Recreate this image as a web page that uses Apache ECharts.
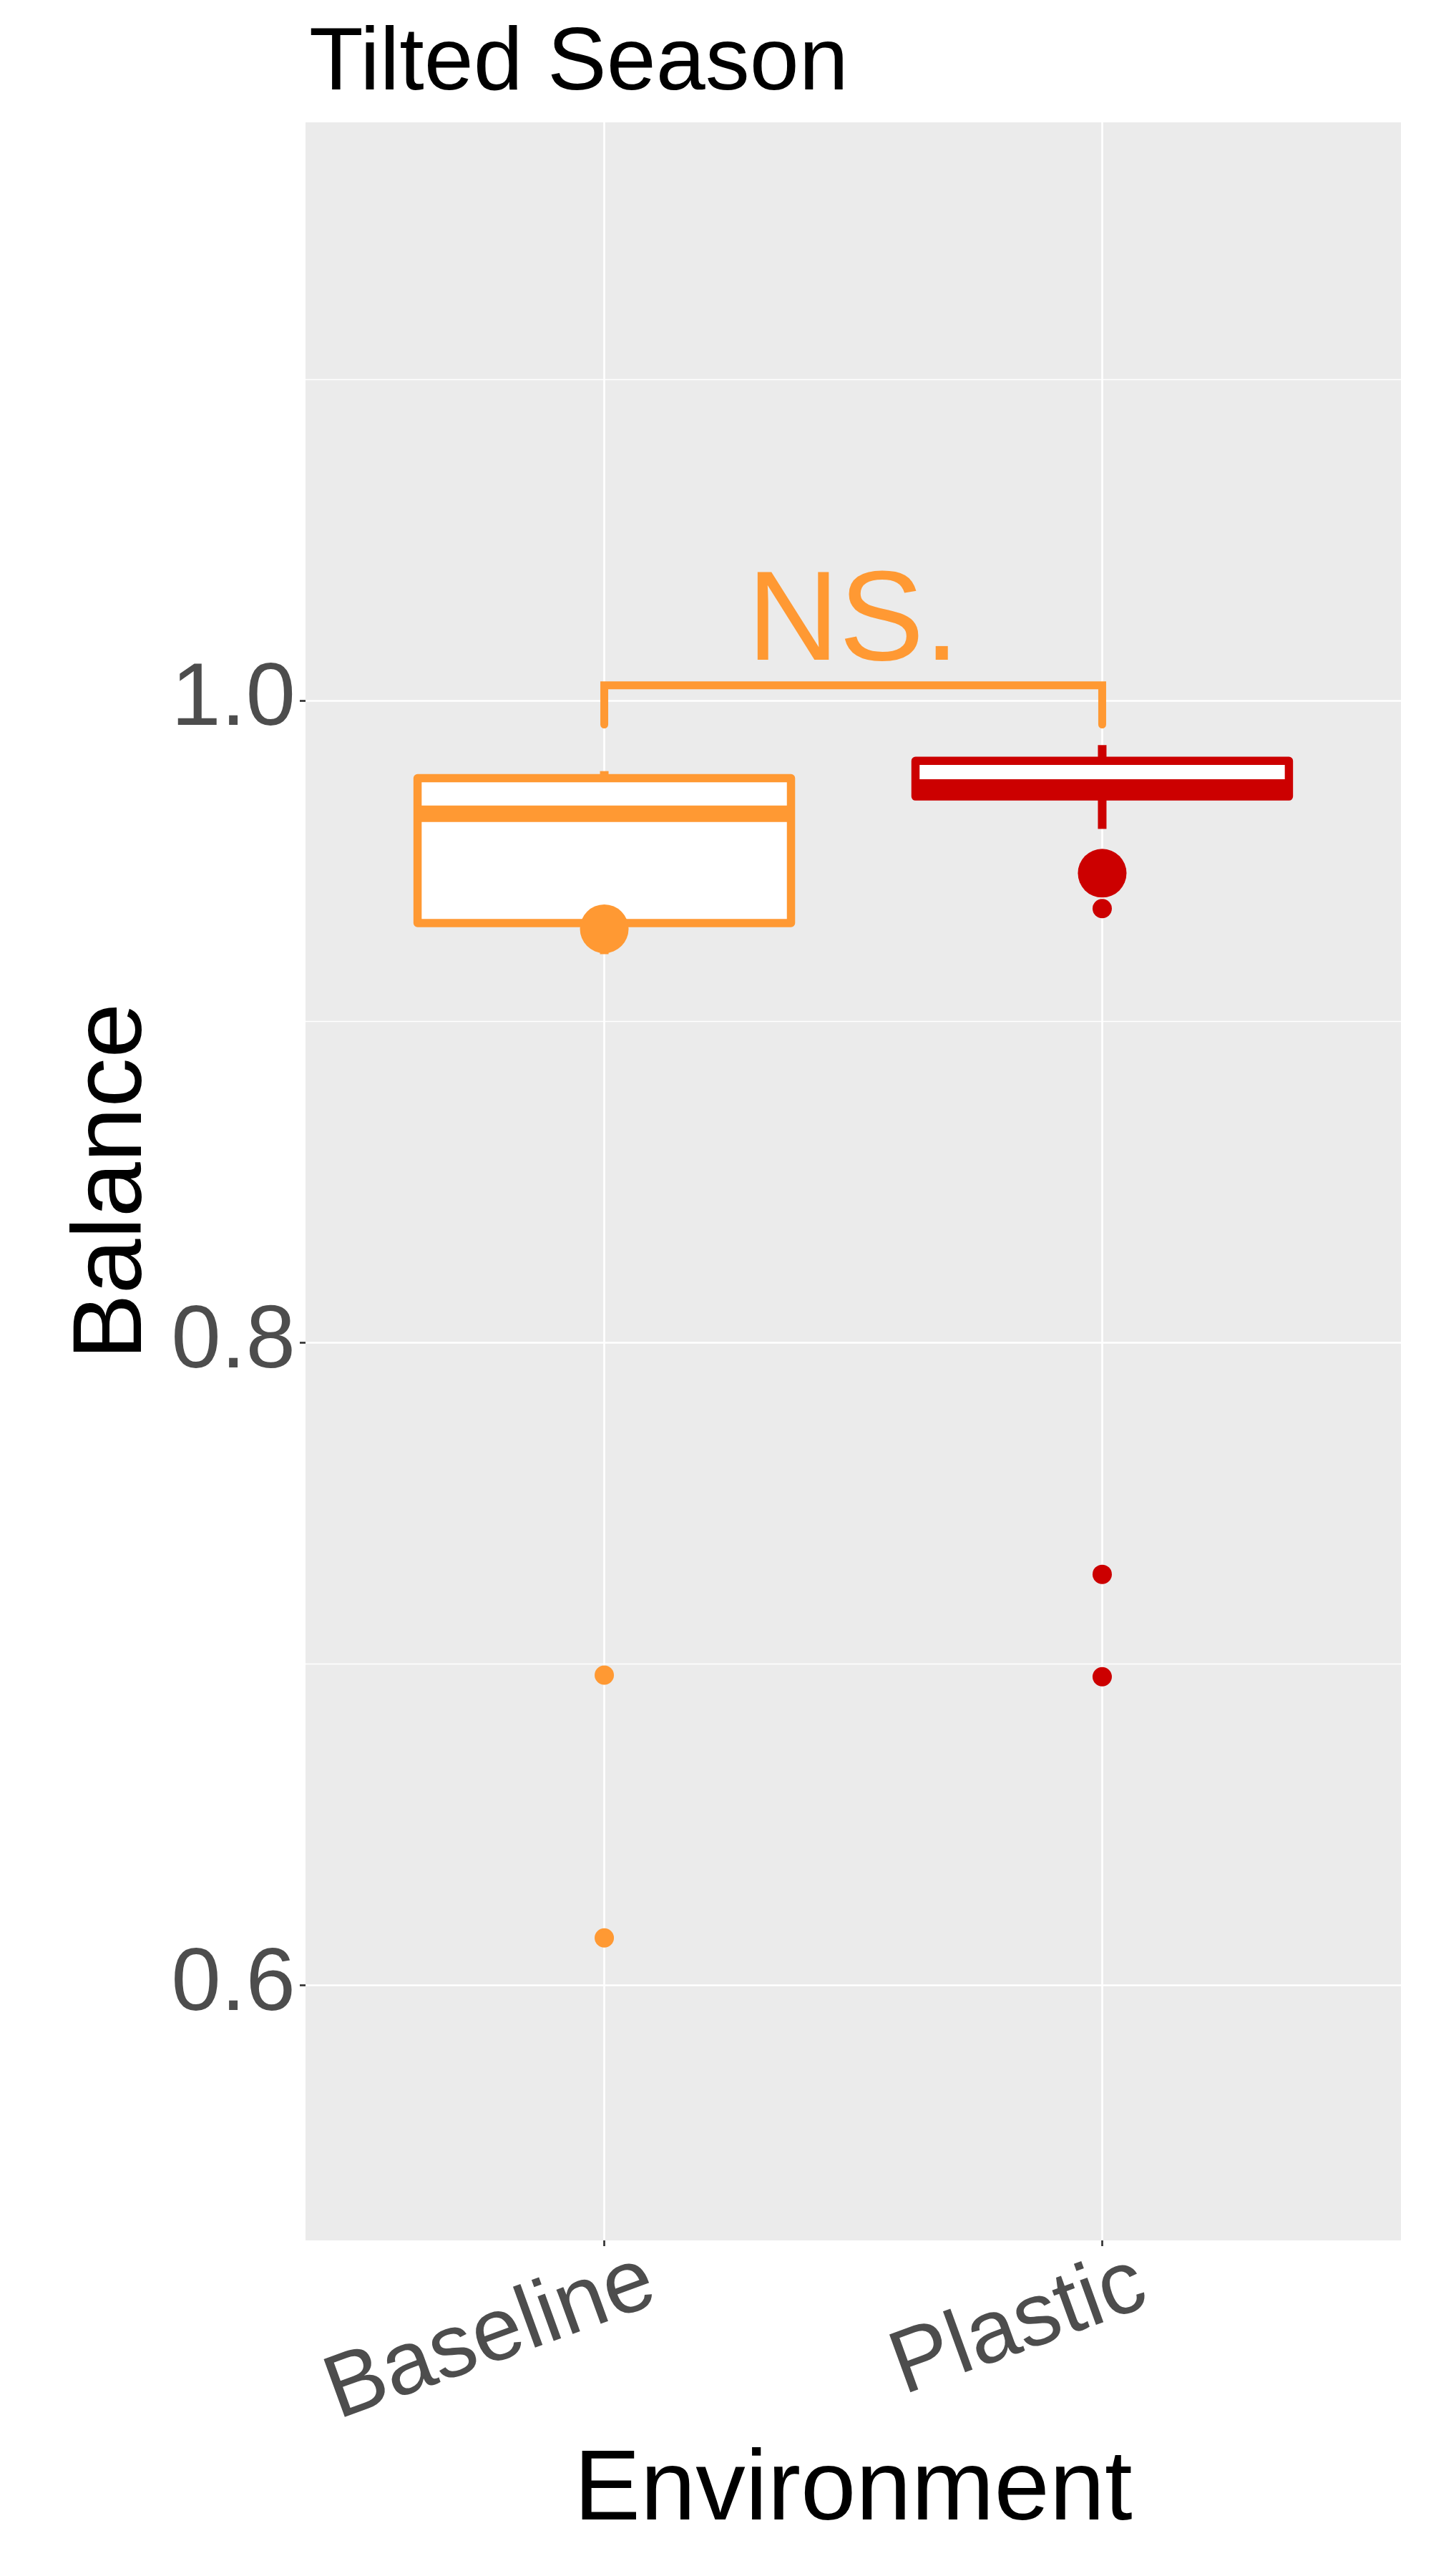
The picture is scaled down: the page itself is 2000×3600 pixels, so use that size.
<!DOCTYPE html>
<html><head><meta charset="utf-8">
<script src="https://cdn.jsdelivr.net/npm/echarts@6/dist/echarts.min.js"></script>
<style>html,body{margin:0;padding:0;background:#fff}#c{width:2000px;height:3600px}</style>
</head><body><div id="c"></div>
<script>
// ---- data ----
const categories = ['Baseline', 'Plastic'];
const lowerWhisker = [0.921, 0.960];
const q1 = [0.9307, 0.9701];
const median = [0.9647, 0.9729];
const q3 = [0.9758, 0.9812];
const upperWhisker = [0.978, 0.9861];
const means = [0.9289, 0.9462];
const outliersBaseline = [0.6965, 0.6147];
const outliersPlastic = [0.9352, 0.7279, 0.6960];
const yTickValues = [0.6, 0.8, 1.0];
const yMinorValues = [0.7, 0.9, 1.1];
const bracketTop = 1.0047;
const bracketLeg = 0.9925;
const annotationText = 'NS.';
const colors = ['#FF9933', '#CC0000'];

const FONT = 'Liberation Sans';
const xPos = categories.map((c, i) => i + 1);

const boxData = categories.map((c, i) => [xPos[i], lowerWhisker[i], q1[i], median[i], q3[i], upperWhisker[i], i]);
const meanData = categories.map((c, i) => ({ value: [xPos[i], means[i]], itemStyle: { color: colors[i], opacity: 1 } }));
const outlierData = [].concat(
  outliersBaseline.map(v => ({ value: [xPos[0], v], itemStyle: { color: colors[0], opacity: 1 } })),
  outliersPlastic.map(v => ({ value: [xPos[1], v], itemStyle: { color: colors[1], opacity: 1 } }))
);
const bracketData = [[xPos[0], bracketLeg], [xPos[0], bracketTop], [xPos[1], bracketTop], [xPos[1], bracketLeg]];

const gridLines = [].concat(
  yTickValues.map(v => ({ yAxis: v, lineStyle: { width: 2.7 } })),
  yMinorValues.map(v => ({ yAxis: v, lineStyle: { width: 1.4 } })),
  xPos.map(v => ({ xAxis: v, lineStyle: { width: 2.7 } }))
);

const chart = echarts.init(document.getElementById('c'), null, { renderer: 'canvas' });
chart.setOption({
  animation: false,
  backgroundColor: '#FFFFFF',
  textStyle: { fontFamily: FONT },
  title: {
    text: 'Tilted Season', left: 427, top: 24,
    textStyle: { fontSize: 124, fontWeight: 'normal', color: '#000000', fontFamily: FONT }
  },
  grid: { left: 427, right: 42, top: 171, bottom: 469, show: true, backgroundColor: '#EBEBEB', borderWidth: 0 },
  xAxis: {
    type: 'value', min: 0.4, max: 2.6,
    axisLine: { show: false },
    splitLine: { show: false },
    axisTick: { show: true, customValues: xPos, length: 8, lineStyle: { color: '#333333', width: 2.7 } },
    axisLabel: {
      customValues: xPos, rotate: 20, align: 'center', verticalAlign: 'middle', margin: 78,
      formatter: v => { const i = Math.round(v) - 1; return '{c' + i + '|' + categories[i] + '}'; },
      rich: {
        c0: { fontSize: 125, color: '#4D4D4D', fontFamily: FONT, padding: [0, 338, 0, 0] },
        c1: { fontSize: 125, color: '#4D4D4D', fontFamily: FONT, padding: [0, 248, 0, 0] }
      }
    },
    name: 'Environment', nameLocation: 'middle', nameGap: 281,
    nameTextStyle: { fontSize: 139, color: '#000000', fontFamily: FONT }
  },
  yAxis: {
    type: 'value', min: 0.5205, max: 1.18,
    axisLine: { show: false },
    splitLine: { show: false },
    axisTick: { show: true, customValues: yTickValues, length: 8, lineStyle: { color: '#333333', width: 2.7 } },
    axisLabel: {
      customValues: yTickValues, formatter: v => v.toFixed(1), margin: 14,
      fontSize: 125, color: '#4D4D4D', fontFamily: FONT
    },
    name: 'Balance', nameLocation: 'middle', nameGap: 197, nameRotate: 90,
    nameTextStyle: { fontSize: 138, color: '#000000', fontFamily: FONT }
  },
  series: [
    {
      name: 'grid', type: 'line', data: [], z: 0, silent: true,
      markLine: {
        z: 1, silent: true, symbol: ['none', 'none'], label: { show: false },
        lineStyle: { color: '#FFFFFF', type: 'solid' },
        emphasis: { disabled: true },
        data: gridLines
      }
    },
    {
      name: 'box', type: 'custom', z: 3, data: boxData,
      renderItem: (params, api) => {
        const x = api.value(0);
        const lo = api.coord([x, api.value(1)]);
        const p1 = api.coord([x, api.value(2)]);
        const pm = api.coord([x, api.value(3)]);
        const p3 = api.coord([x, api.value(4)]);
        const hi = api.coord([x, api.value(5)]);
        const halfW = api.size([0.75, 0])[0] / 2;
        const col = colors[api.value(6)];
        return {
          type: 'group', children: [
            { type: 'line', shape: { x1: hi[0], y1: hi[1], x2: p3[0], y2: p3[1] }, style: { stroke: col, lineWidth: 12 } },
            { type: 'line', shape: { x1: lo[0], y1: lo[1], x2: p1[0], y2: p1[1] }, style: { stroke: col, lineWidth: 12 } },
            { type: 'rect', shape: { x: p3[0] - halfW, y: p3[1], width: 2 * halfW, height: p1[1] - p3[1] },
              style: { fill: '#FFFFFF', stroke: col, lineWidth: 11.5, lineJoin: 'round' } },
            { type: 'line', shape: { x1: pm[0] - halfW, y1: pm[1], x2: pm[0] + halfW, y2: pm[1] }, style: { stroke: col, lineWidth: 23 } }
          ]
        };
      }
    },
    {
      name: 'outliers', type: 'scatter', z: 4, symbol: 'circle', symbolSize: 27, data: outlierData, silent: true,
      itemStyle: { opacity: 1 }
    },
    {
      name: 'means', type: 'scatter', z: 5, symbol: 'circle', symbolSize: 68, data: meanData, silent: true,
      itemStyle: { opacity: 1 }
    },
    {
      name: 'bracket', type: 'line', z: 4, data: bracketData, showSymbol: false, symbol: 'none', silent: true,
      lineStyle: { color: colors[0], width: 11, cap: 'round', join: 'miter', opacity: 1 }
    },
    {
      name: 'annotation', type: 'scatter', z: 6, symbolSize: 0, silent: true,
      itemStyle: { opacity: 1 },
      data: [[(xPos[0] + xPos[1]) / 2, bracketTop]],
      label: { show: true, position: 'top', distance: -4, formatter: annotationText,
        fontSize: 178, color: colors[0], fontFamily: FONT, opacity: 1 }
    }
  ]
});
</script>
</body></html>
